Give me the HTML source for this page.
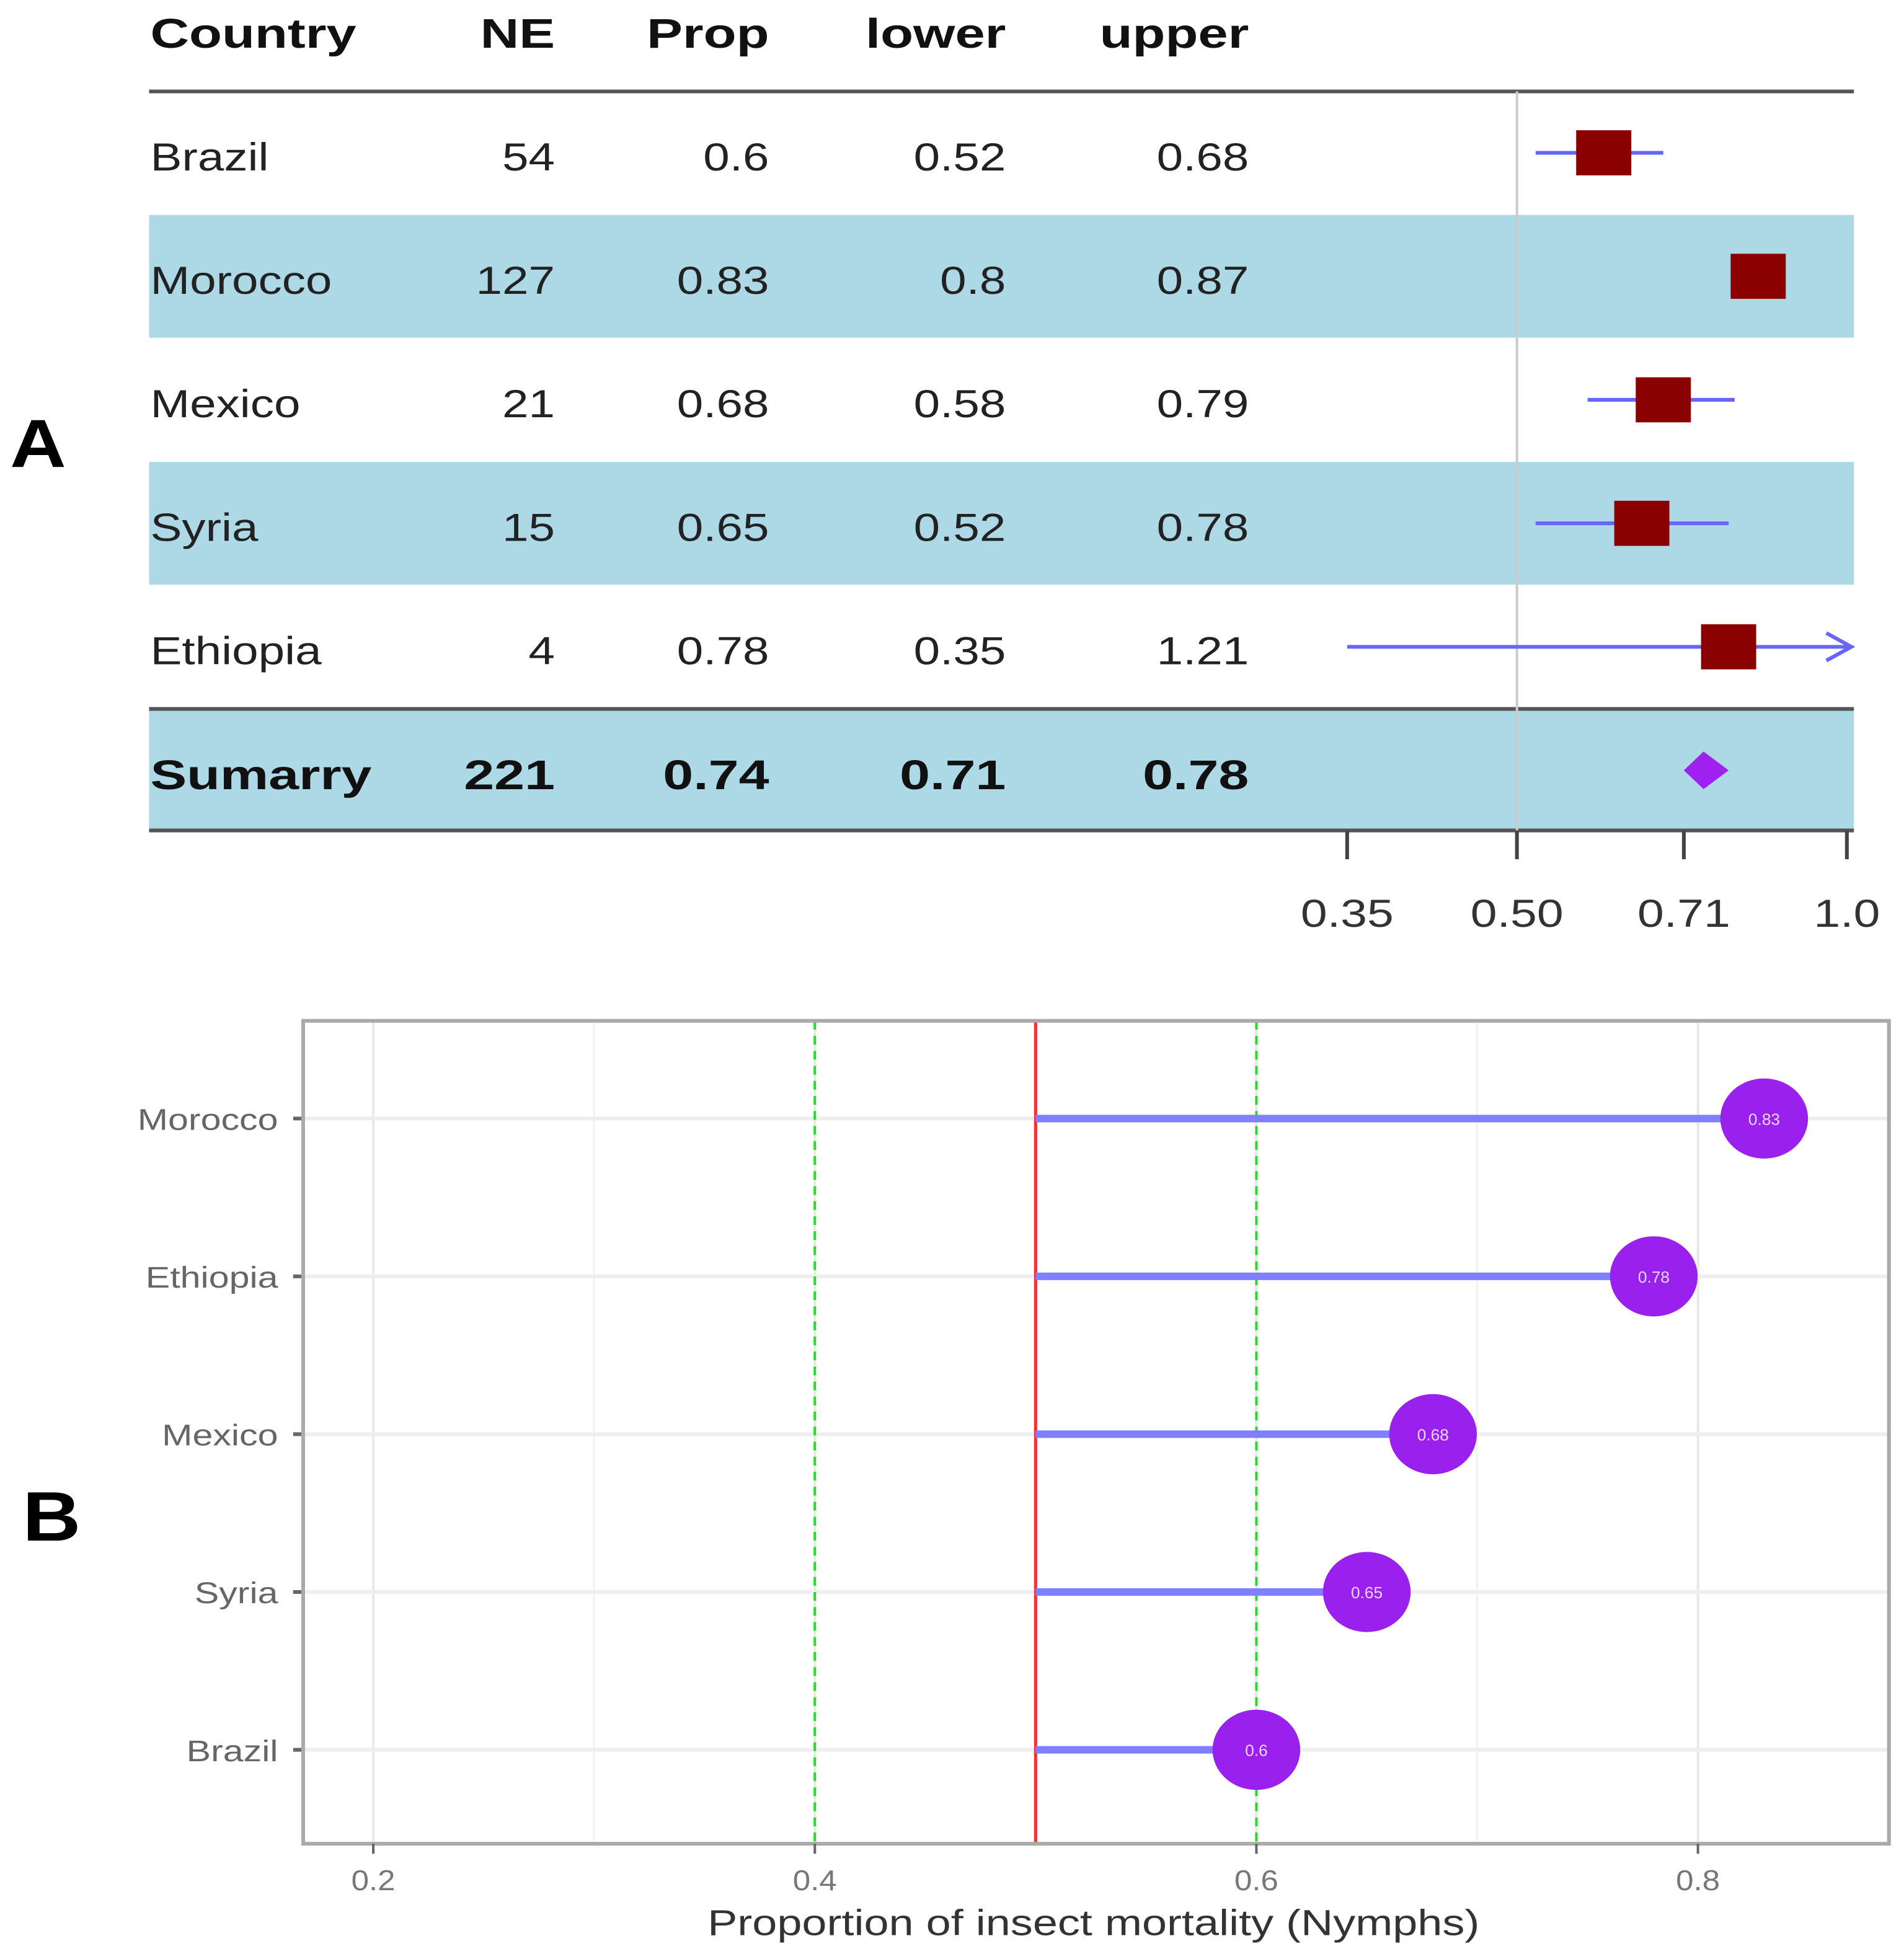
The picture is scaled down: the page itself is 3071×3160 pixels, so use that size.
<!DOCTYPE html>
<html><head><meta charset="utf-8"><style>
html,body{margin:0;padding:0;background:#fff}
svg{display:block}
text{font-family:"Liberation Sans",sans-serif}
</style></head><body>
<svg id="chart" width="3071" height="3160" viewBox="0 0 1520 1564" preserveAspectRatio="none" xmlns="http://www.w3.org/2000/svg">
<g id="pa"></g>
<g id="pb"></g>
</svg>
<script>
const countries = ["Brazil","Morocco","Mexico","Syria","Ethiopia"];
const neVals = ["54","127","21","15","4"];
const propVals = [0.6,0.83,0.68,0.65,0.78];
const lowerVals = [0.52,0.8,0.58,0.52,0.35];
const upperVals = [0.68,0.87,0.79,0.78,1.21];
const summaryRow = ["Sumarry","221","0.74","0.71","0.78"];
const summaryVals = [0.74,0.71,0.78];
const forestTicks = [0.35,0.5,0.71,1.0];
const forestTickLabels = ["0.35","0.50","0.71","1.0"];
const bCountries = ["Morocco","Ethiopia","Mexico","Syria","Brazil"];
const bValues = [0.83,0.78,0.68,0.65,0.6];
const bLabels = ["0.83","0.78","0.68","0.65","0.6"];
const bTicks = [0.2,0.4,0.6,0.8];
const bTickLabels = ["0.2","0.4","0.6","0.8"];
const bRef = 0.5;
const bGreen = [0.4,0.6];

const NS="http://www.w3.org/2000/svg";
function mk(parent,tag,attrs,txt){const e=document.createElementNS(NS,tag);for(const k in attrs)e.setAttribute(k,attrs[k]);if(txt!==undefined)e.textContent=txt;parent.appendChild(e);return e;}
function tx(parent,x,y,sx,attrs,txt){const a=Object.assign({x:0,y:0,transform:`translate(${x},${y}) scale(${sx},1)`},attrs);return mk(parent,'text',a,txt);}

// Panel A
const A=document.getElementById('pa');
const fx=v=>1211+(Math.log(v)-Math.log(0.5))*380;
const rowY=i=>125+i*98.6;
let e;
e=tx(A,8,373,1.15,{'font-size':54,'font-weight':'bold',fill:'#000'},'A');


[1,3].forEach(i=>{e=mk(A,'rect',{x:119,y:rowY(i)-52,width:1361,height:98,fill:'#add8e6'});

});
e=mk(A,'rect',{x:119,y:566,width:1361,height:97,fill:'#add8e6'});


const hdr=["Country","NE","Prop","lower","upper"];
const colX=[120,443,614,803,997];
hdr.forEach((h,j)=>{e=tx(A,colX[j],38,1.3,{'font-size':33,'font-weight':'bold',fill:'#111','text-anchor':j?'end':'start'},h);

});
e=mk(A,'line',{x1:119,x2:1480,y1:73,y2:73,stroke:'#555',"stroke-width":3});


e=mk(A,'line',{x1:119,x2:1480,y1:566,y2:566,stroke:'#555',"stroke-width":3});


e=mk(A,'line',{x1:119,x2:1480,y1:663,y2:663,stroke:'#555',"stroke-width":3});


e=mk(A,'line',{x1:fx(0.5),x2:fx(0.5),y1:73,y2:663,stroke:'#ccc',"stroke-width":2});


countries.forEach((c,i)=>{
  const y=rowY(i);
  const vals=[c,neVals[i],String(propVals[i]),String(lowerVals[i]),String(upperVals[i])];
  vals.forEach((v,j)=>{e=tx(A,colX[j],y+11,1.22,{'font-size':31,fill:'#222','text-anchor':j?'end':'start'},v);
  
  });
  const lo=Math.max(fx(lowerVals[i]),1070), up=Math.min(fx(upperVals[i]),1478);
  e=mk(A,'line',{x1:lo,x2:up,y1:y-3,y2:y-3,stroke:'#6666ff',"stroke-width":3});
  
  
  if(fx(upperVals[i])>1478){e=mk(A,'path',{d:`M${up-20},${y-14} L${up},${y-3} L${up-20},${y+8}`,fill:'none',stroke:'#6666ff',"stroke-width":3});
  
  }
  e=mk(A,'rect',{x:fx(propVals[i])-22,y:y-21,width:44,height:36,fill:'#8b0000'});
  
  
});
summaryRow.forEach((v,j)=>{e=tx(A,colX[j],630,1.32,{'font-size':33,'font-weight':'bold',fill:'#111','text-anchor':j?'end':'start'},v);

});
e=mk(A,'polygon',{points:`${fx(summaryVals[1])},615 ${fx(summaryVals[0])},600 ${fx(summaryVals[2])},615 ${fx(summaryVals[0])},630`,fill:'#a020f0'});


forestTicks.forEach((t,i)=>{
  e=mk(A,'line',{x1:fx(t),x2:fx(t),y1:663,y2:686,stroke:'#444',"stroke-width":3});
  
  
  e=tx(A,fx(t),740,1.23,{'font-size':31,fill:'#333','text-anchor':'middle'},forestTickLabels[i]);
  
  
});

// Panel B
const B=document.getElementById('pb');
const bx=v=>298+(v-0.2)*1762.5;
const by=i=>893+i*126;
const L=242,R=1508,T=815,Bt=1472;
e=tx(B,18,1230,1.15,{'font-size':56,'font-weight':'bold',fill:'#000'},'B');


[0.3,0.5,0.7].forEach(v=>{e=mk(B,'line',{x1:bx(v),x2:bx(v),y1:T,y2:Bt,stroke:'#f2f2f2',"stroke-width":1.5});

});
bTicks.forEach(v=>{e=mk(B,'line',{x1:bx(v),x2:bx(v),y1:T,y2:Bt,stroke:'#e8e8e8',"stroke-width":2});

});
bCountries.forEach((c,i)=>{e=mk(B,'line',{x1:L,x2:R,y1:by(i),y2:by(i),stroke:'#eeeeee',"stroke-width":3});

});
bGreen.forEach(v=>{e=mk(B,'line',{x1:bx(v),x2:bx(v),y1:T,y2:Bt,stroke:'#22dd22',"stroke-width":2,"stroke-dasharray":"7,5"});

});
e=mk(B,'line',{x1:bx(bRef),x2:bx(bRef),y1:T,y2:Bt,stroke:'#ee3333',"stroke-width":2.5});


bCountries.forEach((c,i)=>{
  const y=by(i);
  e=mk(B,'line',{x1:bx(bRef),x2:bx(bValues[i]),y1:y,y2:y,stroke:'#8080ff',"stroke-width":6});
  
  
  e=mk(B,'ellipse',{cx:bx(bValues[i]),cy:y,rx:35,ry:32,fill:'#9a20ee'});
  
  
  e=mk(B,'text',{x:bx(bValues[i]),y:y+5,'font-size':13,fill:'#e8d8ff','text-anchor':'middle'},bLabels[i]);
  
  
  e=tx(B,222,y+9,1.22,{'font-size':24,fill:'#666','text-anchor':'end'},c);
  
  
  e=mk(B,'line',{x1:234,x2:242,y1:y,y2:y,stroke:'#666',"stroke-width":3});
  
  
});
e=mk(B,'rect',{x:L,y:T,width:R-L,height:Bt-T,fill:'none',stroke:'#aaa',"stroke-width":3});


bTicks.forEach((v,i)=>{
  e=mk(B,'line',{x1:bx(v),x2:bx(v),y1:Bt,y2:Bt+8,stroke:'#666',"stroke-width":2});
  
  
  e=tx(B,bx(v),1509,1.1,{'font-size':23,fill:'#777','text-anchor':'middle'},bTickLabels[i]);
  
  
});
e=tx(B,873,1545,1.23,{'font-size':29,fill:'#333','text-anchor':'middle'},'Proportion of insect mortality (Nymphs)');


</script>
</body></html>
